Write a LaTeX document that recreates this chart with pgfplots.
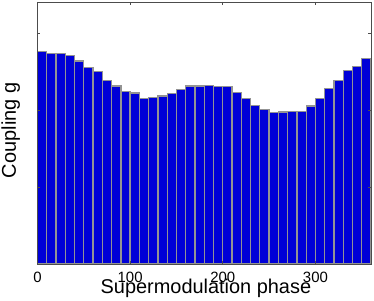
\documentclass[border=0pt]{standalone}
\usepackage{fontspec}
\setmainfont{Liberation Sans}
\usepackage{pgfplots}
\pgfplotsset{compat=1.18}
\definecolor{barblue}{RGB}{0,0,215}
\begin{document}
\begin{tikzpicture}
\useasboundingbox (-37.5bp,-37bp) rectangle (336.5bp,264bp);
\begin{axis}[
  at={(0,0)}, anchor=south west,
  scale only axis, width=333.5bp, height=262bp,
  xmin=0, xmax=360, ymin=0, ymax=262,
  enlargelimits=false,
  xtick={0,100,200,300},
  ytick={0,77,154,231},
  yticklabels={},
  tick align=inside,
  major tick length=3bp,
  tick style={black!70, line width=0.6bp},
  axis line style={black!70, line width=0.8bp},
  /pgf/number format/assume math mode=true,
  ticklabel style={font=\fontsize{15}{18}\selectfont},
  xticklabel style={anchor=base, yshift=-18bp},
  xlabel={Supermodulation phase},
  ylabel={Coupling g},
  label style={font=\fontsize{20}{24}\selectfont},
  xlabel style={at={(axis description cs:0.505,-0.111)}, anchor=base, inner sep=0pt},
  ylabel style={at={(axis description cs:-0.052,0.51)}, anchor=south, inner sep=0pt},
  axis on top,
]
\addplot[ybar, bar width=10, bar shift=0pt, fill=barblue, draw=gray!85, line width=1.3bp] coordinates {
(5,212.3) (15,210.7) (25,210.7) (35,208.7) (45,203) (55,196.3) (65,192.3) (75,183.7) (85,178) (95,172.7)
(105,171) (115,165.3) (125,166.7) (135,168) (145,170.7) (155,174.7) (165,178) (175,178) (185,178.7) (195,177.7)
(205,177.3) (215,171.7) (225,165.7) (235,158.7) (245,154.3) (255,151.3) (265,152) (275,152.3) (285,152.7) (295,158)
(305,165.7) (315,175.3) (325,183.3) (335,193.3) (345,197.7) (355,205.7)
};
\end{axis}
\end{tikzpicture}
\end{document}
